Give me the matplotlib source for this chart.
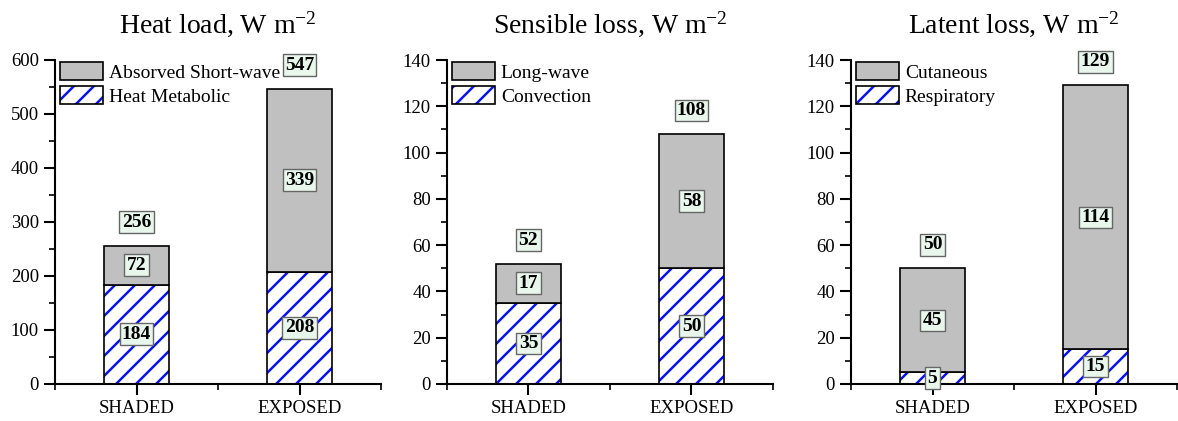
import matplotlib
matplotlib.use("Agg")
import matplotlib.pyplot as plt
from matplotlib.ticker import MultipleLocator, FixedLocator
from matplotlib.patches import Patch
from matplotlib.legend_handler import HandlerTuple
from matplotlib.backend_bases import GraphicsContextBase

# finer single-slash hatch (about 20 px between lines)
_orig_hatch_path = GraphicsContextBase.get_hatch_path
def _hatch_path(self, density=10.0):
    return _orig_hatch_path(self, density)
GraphicsContextBase.get_hatch_path = _hatch_path

plt.rcParams['font.family'] = ['Liberation Serif', 'DejaVu Serif']
plt.rcParams['mathtext.fontset'] = 'custom'
plt.rcParams['mathtext.rm'] = 'Liberation Serif'
plt.rcParams['mathtext.it'] = 'Liberation Serif:italic'
plt.rcParams['mathtext.bf'] = 'Liberation Serif:bold'
plt.rcParams['hatch.linewidth'] = 1.8

categories = ["SHADED", "EXPOSED"]

titles = ["Heat load, W m$^{-2}$", "Sensible loss, W m$^{-2}$", "Latent loss, W m$^{-2}$"]
bottom_names = ["Heat Metabolic", "Convection", "Respiratory"]
top_names = ["Absorved Short-wave", "Long-wave", "Cutaneous"]

heat_metabolic = [184, 208]
absorbed_sw = [72, 339]
heat_total = [256, 547]

convection = [35, 50]
long_wave = [17, 58]
sensible_total = [52, 108]

respiratory = [5, 15]
cutaneous = [45, 114]
latent_total = [50, 129]

bottoms = [heat_metabolic, convection, respiratory]
tops = [absorbed_sw, long_wave, cutaneous]
totals = [heat_total, sensible_total, latent_total]
ymax = [600, 140, 140]
ymajor = [100, 20, 20]

HATCH_BLUE = '#0a14f0'
GREY = '#c0c0c0'

W, H = 1178, 421
fig = plt.figure(figsize=(W / 100, H / 100), dpi=100)
lefts = [55, 447, 851]
aw = 326
ab, at = 384, 60

box = dict(boxstyle='square,pad=0.12', facecolor='#e8f6ec', edgecolor='#666666', linewidth=1)

for i in range(3):
    ax = fig.add_axes([lefts[i] / W, (H - ab) / H, aw / W, (ab - at) / H])
    x = [1, 2]
    b = bottoms[i]
    t = tops[i]
    tot = totals[i]
    ax.bar(x, b, width=0.4, color='white', edgecolor=HATCH_BLUE, hatch='/', linewidth=0, zorder=2)
    ax.bar(x, b, width=0.4, fill=False, edgecolor='black', linewidth=1.2, zorder=3)
    ax.bar(x, t, bottom=b, width=0.4, color=GREY, edgecolor='black', linewidth=1.2, zorder=3)
    for j in range(2):
        ax.text(x[j], b[j] / 2, str(b[j]), ha='center', va='center', fontsize=14,
                fontweight='bold', bbox=box, zorder=5)
        ax.text(x[j], b[j] + t[j] / 2, str(t[j]), ha='center', va='center', fontsize=14,
                fontweight='bold', bbox=box, zorder=5)
        ax.annotate(str(tot[j]), (x[j], b[j] + t[j]), xytext=(0, 17), textcoords='offset points',
                    ha='center', va='center', fontsize=14, fontweight='bold', bbox=box, zorder=5)
    ax.set_xlim(0.5, 2.5)
    ax.set_ylim(0, ymax[i])
    ax.set_xticks(x)
    ax.set_xticklabels(categories)
    ax.xaxis.set_minor_locator(FixedLocator([0.5, 1.5, 2.5]))
    ax.yaxis.set_major_locator(MultipleLocator(ymajor[i]))
    ax.yaxis.set_minor_locator(MultipleLocator(ymajor[i] / 2))
    for s in ['top', 'right']:
        ax.spines[s].set_visible(False)
    for s in ['left', 'bottom']:
        ax.spines[s].set_linewidth(1.5)
    ax.tick_params(axis='both', which='major', direction='out', length=8, width=1.5, labelsize=13.5)
    ax.tick_params(axis='both', which='minor', direction='out', length=4, width=1.2)
    ax.set_title(titles[i], fontsize=20, pad=20)
    grey_patch = Patch(facecolor=GREY, edgecolor='black', linewidth=1.2)
    hatch_fill = Patch(facecolor='white', edgecolor=HATCH_BLUE, hatch='/', linewidth=0)
    hatch_edge = Patch(fill=False, edgecolor='black', linewidth=1.2)
    ax.legend(handles=[grey_patch, (hatch_fill, hatch_edge)], labels=[top_names[i], bottom_names[i]],
              handler_map={tuple: HandlerTuple(ndivide=1, pad=0)},
              loc='upper left', frameon=False, fontsize=14,
              handlelength=2.2, handleheight=1.05, handletextpad=0.3, labelspacing=0.25,
              borderaxespad=0.0, borderpad=0.1, bbox_to_anchor=(0.01, 1.0))

fig.savefig("out.png", dpi=100)
